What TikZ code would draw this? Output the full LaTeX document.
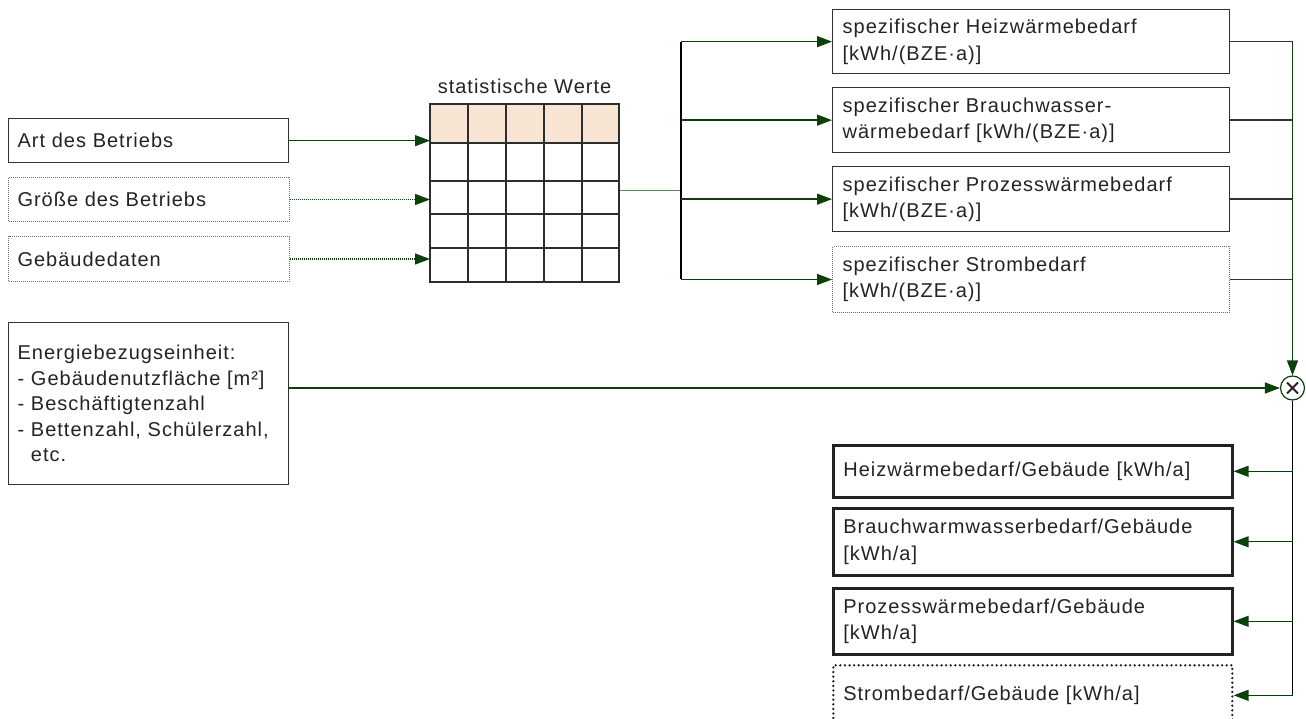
\documentclass[tikz,border=0pt]{standalone}
\usepackage{fontspec}
\setmainfont{Liberation Sans}[LetterSpace=5]
\usetikzlibrary{arrows.meta,calc}

\definecolor{dgreen}{RGB}{10,64,10}
\definecolor{lgreen}{RGB}{96,138,96}
\definecolor{txt}{RGB}{35,35,35}
\definecolor{boxc}{RGB}{50,50,50}
\definecolor{dotc}{RGB}{110,110,110}
\definecolor{boldc}{RGB}{34,34,34}
\definecolor{peach}{RGB}{248,228,211}
\definecolor{gridc}{RGB}{45,45,45}

\tikzset{
  every node/.style={font=\fontsize{20}{26.5}\selectfont, text=txt},
  frame/.style={draw=boxc, line width=1.3pt, rectangle, inner xsep=9pt,
    inner ysep=0pt, anchor=north west, align=left},
  dotframe/.style={frame, draw=dotc, line width=1pt, dash pattern=on 1pt off 1pt},
  boldframe/.style={frame, draw=boldc, line width=2.6pt, inner xsep=10pt},
  strframe/.style={boldframe, line cap=round, dash pattern=on 0pt off 4.6pt},
  conn/.style={draw=dgreen, line width=1.3pt},
  arr/.style={conn, -{Triangle[length=15pt,width=11pt]}},
  dotarr/.style={arr, dash pattern=on 1pt off 1pt},
  plain/.style={draw=boxc, line width=1.3pt},
}

\begin{document}
\begin{tikzpicture}[x=1pt,y=-1pt]
\useasboundingbox (0,0) rectangle (1306,719);
\clip (0,0) rectangle (1306,719);

% input boxes
\node[frame, minimum width=280pt, minimum height=44pt, text width=262pt] (art) at (8,118) {Art des Betriebs};
\node[dotframe, minimum width=281pt, minimum height=44pt, text width=263pt] (gro) at (8,177) {Größe des Betriebs};
\node[dotframe, minimum width=281pt, minimum height=45pt, text width=263pt] (geb) at (8,236) {Gebäudedaten};
\node[frame, minimum width=280pt, minimum height=162pt, text width=262pt,
      font=\fontsize{20}{25.5}\selectfont] (ene) at (8,322)
  {Energiebezugseinheit:\\- Gebäudenutzfläche [m²]\\- Beschäftigtenzahl\\- Bettenzahl, Schülerzahl,\\\hphantom{- }etc.};

% table of statistical values
\node[draw=gridc, line width=1.3pt, rectangle, anchor=north west, inner sep=0pt,
      minimum width=189pt, minimum height=178pt] (tab) at (430,104) {};
\fill[peach] (430,104) rectangle (619,143);
\foreach \xx in {468,506,544,582} \draw[gridc, line width=1.2pt] (\xx,104) -- (\xx,282);
\foreach \yy in {143,181,214,248} \draw[gridc, line width=1.2pt] (430,\yy) -- (619,\yy);
\draw[gridc, line width=1.3pt] (430,104) rectangle (619,282);
\node (tabtitle) at (524.5,86) {statistische Werte};

% specific demand boxes
\node[frame, inner xsep=10pt, minimum width=397pt, minimum height=64pt, text width=377pt] (s1) at (832,9)
  {spezifischer Heizwärmebedarf\\{[kWh/(BZE·a)]}};
\node[frame, inner xsep=10pt, minimum width=397pt, minimum height=65pt, text width=377pt] (s2) at (832,87)
  {spezifischer Brauchwasser-\\wärmebedarf [kWh/(BZE·a)]};
\node[frame, inner xsep=10pt, minimum width=397pt, minimum height=65pt, text width=377pt] (s3) at (832,166)
  {spezifischer Prozesswärmebedarf\\{[kWh/(BZE·a)]}};
\node[dotframe, inner xsep=10pt, minimum width=397pt, minimum height=66pt, text width=377pt] (s4) at (832,246)
  {spezifischer Strombedarf\\{[kWh/(BZE·a)]}};

% multiplication
\node[circle, draw=dgreen, line width=1.2pt, minimum size=24pt, inner sep=0pt] (mult) at (1292.5,388) {};
\draw[txt, line width=1.9pt] ($(mult.center)+(-5.5,-5.5)$) -- ($(mult.center)+(5.5,5.5)$);
\draw[txt, line width=1.9pt] ($(mult.center)+(-5.5,5.5)$) -- ($(mult.center)+(5.5,-5.5)$);

% result boxes
\node[boldframe, minimum width=399pt, minimum height=52pt, text width=379pt] (o1) at (832,444)
  {Heizwärmebedarf/Gebäude [kWh/a]};
\node[boldframe, minimum width=399pt, minimum height=67pt, text width=379pt] (o2) at (832,507)
  {Brauchwarmwasserbedarf/Gebäude\\{[kWh/a]}};
\node[boldframe, minimum width=399pt, minimum height=66pt, text width=379pt] (o3) at (832,587)
  {Prozesswärmebedarf/Gebäude\\{[kWh/a]}};
\node[strframe, minimum width=399pt, minimum height=60pt, text width=379pt] (o4) at (832,664)
  {Strombedarf/Gebäude [kWh/a]};

% inputs into the table
\draw[arr] (art.east) -- (art.east -| tab.west);
\draw[dotarr] (gro.east) -- (gro.east -| tab.west);
\draw[dotarr] (geb.east) -- (geb.east -| tab.west);

% table to the distribution trunk
\coordinate (trunk) at (681,190);
\draw[draw=lgreen, line width=1.3pt] ([yshift=3pt]tab.east) -- ([yshift=3pt]tab.east -| trunk);
\draw[draw=black, line width=1.2pt] (trunk |- s1.west) -- (trunk |- s4.west);
\foreach \s in {s1,s2,s3,s4} \draw[arr] (trunk |- \s.west) -- (\s.west);

% collector to the multiplication
\foreach \s in {s1,s2,s3,s4} \draw[plain] (\s.east) -- (\s.east -| mult.north);
\draw[arr] (s1.east -| mult.north) -- (mult.north);
\draw[arr] (ene.east |- mult.west) -- (mult.west);

% results
\draw[draw=black, line width=1.2pt] (mult.south) -- (mult.south |- o4.east);
\foreach \o in {o1,o2,o3,o4} \draw[arr] (mult.south |- \o.east) -- (\o.east);
\end{tikzpicture}
\end{document}
